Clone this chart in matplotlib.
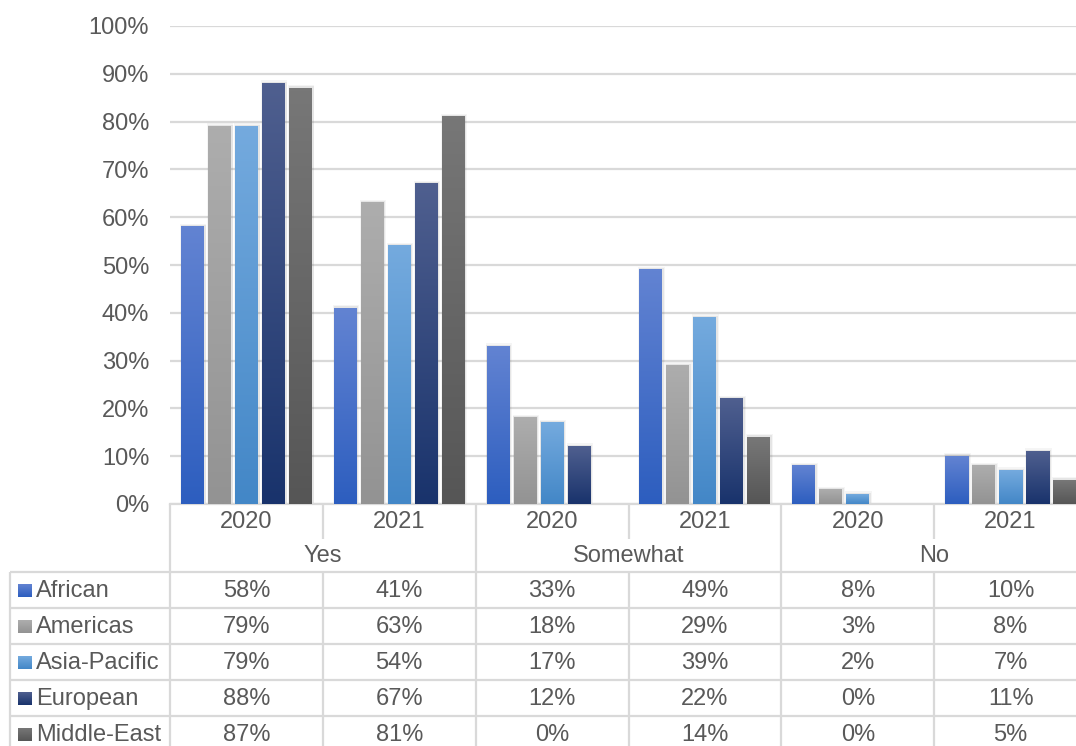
import numpy as np
import matplotlib
matplotlib.use("Agg")
import matplotlib.pyplot as plt
from matplotlib.colors import to_rgb

plt.rcParams["font.family"] = ["Liberation Sans", "DejaVu Sans"]

# data
responses = ["Yes", "Somewhat", "No"]
years = ["2020", "2021"]
regions = ["African", "Americas", "Asia-Pacific", "European", "Middle-East"]
african = [58, 41, 33, 49, 8, 10]
americas = [79, 63, 18, 29, 3, 8]
asia_pacific = [79, 54, 17, 39, 2, 7]
european = [88, 67, 12, 22, 0, 11]
middle_east = [87, 81, 0, 14, 0, 5]
series = [african, americas, asia_pacific, european, middle_east]

# gradient colours (top, bottom)
colors = [
    ("#6283d2", "#2d5ebf"),
    ("#adadad", "#939393"),
    ("#74aade", "#4387c7"),
    ("#4f5f8f", "#19336c"),
    ("#777777", "#565656"),
]
text_col = "#595959"
line_col = "#d9d9d9"
fs = 17


def gradient(top, bottom, n=64):
    t = np.linspace(0, 1, n)[:, None, None]
    return (1 - t) * np.array(to_rgb(top)) + t * np.array(to_rgb(bottom))


W, H = 1076, 746
fig = plt.figure(figsize=(W / 100, H / 100), dpi=100)

x_left, x_right = 170, 1087
y_top, y_zero = 26, 504
ax = fig.add_axes([x_left / W, (H - y_zero) / H, (x_right - x_left) / W, (y_zero - y_top) / H])

ncat = len(responses) * len(years)
cat_px = (x_right - x_left) / ncat
xs = np.arange(ncat)
bw = 23 / cat_px
step = 27 / cat_px

for i, vals in enumerate(series):
    off = (i - 2) * step
    for x, v in zip(xs, vals):
        if v <= 0:
            continue
        xc = x + off
        # soft shadow
        for k, a in [(0.022, 0.06), (0.012, 0.10)]:
            ax.bar(xc + 0.005, v + k * 30, width=bw + k, color="#606060", alpha=a,
                   linewidth=0, zorder=2)
        ax.imshow(gradient(*colors[i]), extent=(xc - bw / 2, xc + bw / 2, 0, v),
                  origin="upper", aspect="auto", zorder=3, interpolation="bilinear")

ax.set_xlim(-0.5, ncat - 0.5)
ax.set_ylim(0, 100)
ax.set_yticks(range(0, 101, 10))
ax.set_yticklabels([f"{t}%" for t in range(0, 101, 10)], fontsize=fs, color=text_col)
ax.tick_params(axis="y", length=0, pad=15)
ax.set_xticks([])
ax.grid(axis="y", color=line_col, linewidth=1.6, zorder=0)
ax.set_axisbelow(True)
for s in ["top", "right", "left"]:
    ax.spines[s].set_visible(False)
ax.spines["bottom"].set_color(line_col)
ax.spines["bottom"].set_linewidth(1.6)
ax.patch.set_alpha(0)

# data table under the chart, y in pixels from top of figure
t_bot = 752
tax = fig.add_axes([x_left / W, (H - t_bot) / H, (x_right - x_left) / W, (t_bot - y_zero) / H])
tax.set_xlim(-0.5, ncat - 0.5)
tax.set_ylim(t_bot, y_zero)
tax.axis("off")


def px2x(px):
    return -0.5 + (px - x_left) / cat_px


row_top = 572
row_h = 36
lw = 1.6
kw = dict(color=line_col, linewidth=lw, clip_on=False, solid_capstyle="butt")

# header: years + responses
for j in range(ncat):
    tax.text(j, 522, years[j % 2], ha="center", va="center", fontsize=fs, color=text_col)
for g, r in enumerate(responses):
    tax.text(2 * g + 0.5, 556, r, ha="center", va="center", fontsize=fs, color=text_col)

# vertical lines
for g in range(len(responses) + 1):
    xg = 2 * g - 0.5
    tax.plot([xg, xg], [y_zero, t_bot], **kw)
for g in range(len(responses)):
    xm = 2 * g + 0.5
    tax.plot([xm, xm], [y_zero, 539], **kw)
    tax.plot([xm, xm], [row_top, t_bot], **kw)
tax.plot([px2x(10), px2x(10)], [row_top, t_bot], **kw)

# horizontal lines
for r in range(len(regions)):
    yl = row_top + r * row_h
    tax.plot([px2x(10), ncat - 0.5], [yl, yl], **kw)

# rows
for r, (name, vals) in enumerate(zip(regions, series)):
    yc = row_top + r * row_h + row_h / 2 + 1
    tax.imshow(gradient(*colors[r]), extent=(px2x(18), px2x(31), yc + 6.5, yc - 6.5),
               origin="upper", aspect="auto", clip_on=False, zorder=3)
    tax.text(px2x(36), yc, name, ha="left", va="center", fontsize=fs, color=text_col)
    for j, v in enumerate(vals):
        tax.text(j, yc, f"{v}%", ha="center", va="center", fontsize=fs, color=text_col)

tax.set_xlim(-0.5, ncat - 0.5)
tax.set_ylim(t_bot, y_zero)

fig.savefig("out.png", dpi=100)
